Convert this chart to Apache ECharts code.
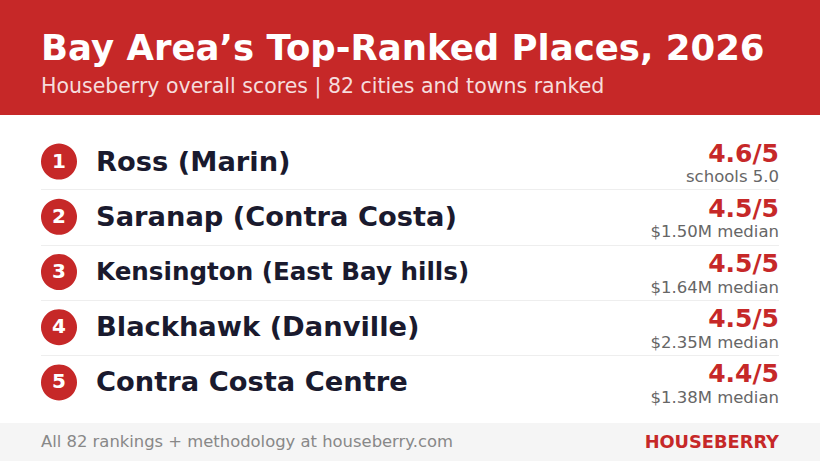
<!DOCTYPE html>
<html>
<head>
<meta charset="utf-8">
<style>html,body{margin:0;padding:0;background:#fff}#main{width:820px;height:461px}</style>
<script src="https://cdn.jsdelivr.net/npm/echarts@6/dist/echarts.min.js"></script>
</head>
<body>
<div id="main"></div>
<script>
var ranks = ['1', '2', '3', '4', '5'];
var places = ['Ross (Marin)', 'Saranap (Contra Costa)', 'Kensington (East Bay hills)', 'Blackhawk (Danville)', 'Contra Costa Centre'];
var scores = [4.6, 4.5, 4.5, 4.5, 4.4];
var details = ['schools 5.0', '$1.50M median', '$1.64M median', '$2.35M median', '$1.38M median'];

var FONT = '"DejaVu Sans", sans-serif';
var RED = '#c62828';
var INK = '#1a1a2e';

var chart = echarts.init(document.getElementById('main'), null, { renderer: 'svg' });

chart.setOption({
  animation: false,
  backgroundColor: '#ffffff',
  textStyle: { fontFamily: FONT },
  grid: { left: 41, right: 41, top: 134.5, height: 276 },
  xAxis: { type: 'value', min: 0, max: 738, show: false },
  yAxis: {
    type: 'category',
    inverse: true,
    data: ranks,
    axisLine: { show: false },
    axisTick: { show: false },
    axisLabel: { show: false },
    splitLine: { show: true, lineStyle: { color: '#eeeeee', width: 1 } }
  },
  graphic: [
    { type: 'rect', z: 0, shape: { x: 0, y: 0, width: 820, height: 115 }, style: { fill: RED } },
    { type: 'rect', z: 0, shape: { x: 0, y: 423, width: 820, height: 38 }, style: { fill: '#f5f5f5' } },
    // hide first and last split lines
    { type: 'rect', z: 1, shape: { x: 41, y: 132, width: 738, height: 4 }, style: { fill: '#ffffff' } },
    { type: 'rect', z: 1, shape: { x: 41, y: 409, width: 738, height: 4 }, style: { fill: '#ffffff' } },
    { type: 'text', z: 2, x: 41, y: 47, style: { text: 'Bay Area\u2019s Top-Ranked Places, 2026', font: 'bold 35.5px ' + FONT, fill: '#ffffff', textVerticalAlign: 'middle' } },
    { type: 'text', z: 2, x: 41, y: 86, style: { text: 'Houseberry overall scores | 82 cities and towns ranked', font: '20.5px ' + FONT, fill: 'rgba(255,255,255,0.85)', textVerticalAlign: 'middle' } },
    { type: 'text', z: 2, x: 41, y: 441, style: { text: 'All 82 rankings + methodology at houseberry.com', font: '16.4px ' + FONT, fill: '#888888', textVerticalAlign: 'middle' } },
    { type: 'text', z: 2, x: 779, y: 441, style: { text: 'HOUSEBERRY', font: 'bold 17.8px ' + FONT, fill: RED, textAlign: 'right', textVerticalAlign: 'middle' } }
  ],
  series: [
    {
      name: 'rank',
      type: 'scatter',
      symbol: 'circle',
      symbolSize: 36,
      symbolOffset: [0, -0.5],
      itemStyle: { color: RED, opacity: 1 },
      data: ranks.map(function (r, i) { return [18, i]; }),
      label: {
        show: true,
        position: 'inside',
        offset: [0, -1],
        color: '#ffffff',
        opacity: 1,
        fontFamily: FONT,
        fontWeight: 'bold',
        fontSize: 20,
        formatter: function (p) { return ranks[p.dataIndex]; }
      }
    },
    {
      name: 'place',
      type: 'scatter',
      symbolSize: 0,
      itemStyle: { opacity: 1 },
      data: places.map(function (name, i) {
        return {
          value: [55, i],
          label: { fontSize: name.length > 24 ? 24.6 : 27.3 }
        };
      }),
      label: {
        show: true,
        position: 'right',
        distance: 0,
        offset: [0, -1],
        color: INK,
        opacity: 1,
        fontFamily: FONT,
        fontWeight: 'bold',
        formatter: function (p) { return places[p.dataIndex]; }
      }
    },
    {
      name: 'score',
      type: 'scatter',
      symbolSize: 0,
      itemStyle: { opacity: 1 },
      data: scores.map(function (s, i) { return [738, i]; }),
      label: {
        show: true,
        position: 'left',
        distance: 0,
        offset: [0, -9],
        color: RED,
        opacity: 1,
        fontFamily: FONT,
        fontWeight: 'bold',
        fontSize: 25,
        formatter: function (p) { return scores[p.dataIndex].toFixed(1) + '/5'; }
      }
    },
    {
      name: 'detail',
      type: 'scatter',
      symbolSize: 0,
      itemStyle: { opacity: 1 },
      data: details.map(function (d, i) { return [738, i]; }),
      label: {
        show: true,
        position: 'left',
        distance: 0,
        offset: [0, 14.5],
        color: '#666666',
        opacity: 1,
        fontFamily: FONT,
        fontSize: 16.5,
        formatter: function (p) { return details[p.dataIndex]; }
      }
    }
  ]
});
</script>
</body>
</html>
